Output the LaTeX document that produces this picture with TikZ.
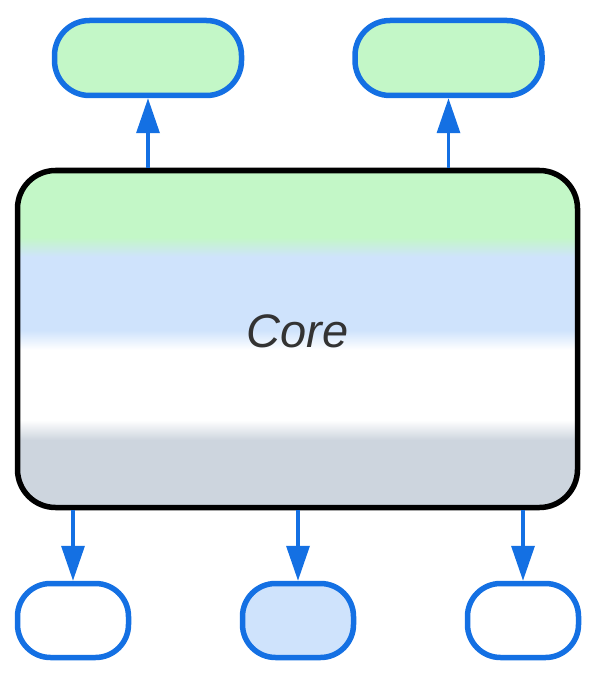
\documentclass[tikz,border=0pt]{standalone}
\usepackage{fontspec}
\setmainfont{Liberation Sans}
\usetikzlibrary{arrows.meta}

\definecolor{linkblue}{HTML}{1470E3}
\definecolor{mintfill}{HTML}{C3F7C7}
\definecolor{skyfill}{HTML}{CFE3FC}
\definecolor{slatefill}{HTML}{CDD5DE}
\definecolor{inkgray}{HTML}{333333}

% bands of the core box, bottom to top (path is mapped to 25bp..75bp)
\pgfdeclareverticalshading{corebands}{100bp}{%
  color(0bp)=(slatefill); color(35bp)=(slatefill);
  color(38bp)=(white); color(48.4bp)=(white);
  color(51.3bp)=(skyfill); color(62.2bp)=(skyfill);
  color(65.1bp)=(mintfill); color(100bp)=(mintfill)}

\begin{document}
\begin{tikzpicture}[x=1pt,y=-1pt,>={Triangle[length=35pt,width=23pt]}]
        \tikzstyle{pill}=[
            draw=linkblue,line width=5.5pt,minimum height=75pt,inner sep=0pt
        ]
        \tikzstyle{upper pill}=[pill, fill=mintfill, minimum width=187pt,
            rounded corners=35pt];
        \tikzstyle{lower pill}=[pill, minimum width=111pt, minimum height=74pt,
            rounded corners=33pt];
        \tikzstyle{flow}=[->,draw=linkblue,fill=linkblue,line width=3.5pt]

        \useasboundingbox (0,0) rectangle (596,679);

        % Draw the core box
        \node[draw=black,line width=5.5pt,rounded corners=38pt,
              shading=corebands,minimum width=560pt,minimum height=337pt,
              text=inkgray,font=\itshape\fontsize{47}{56}\selectfont,
              text depth=15pt]
            (core) at (297.5,339) {Core};

        % Draw the upper nodes
        \foreach \id / \x in {1/148, 2/448.5}
            \node[upper pill] (up-\id) at (\x,58) {};

        % Draw the lower nodes
        \foreach \id / \x / \col in {1/73/white, 2/298/skyfill, 3/523/white}
            \node[lower pill, fill=\col] (down-\id) at (\x,620.5) {};

        % Connect the core with the upper nodes
        \foreach \id in {1,2}
            \draw[flow] (core.north -| up-\id.south) -- (up-\id.south);

        % Connect the core with the lower nodes
        \foreach \id in {1,...,3}
            \draw[flow] (core.south -| down-\id.north) -- (down-\id.north);
    \end{tikzpicture}
\end{document}
